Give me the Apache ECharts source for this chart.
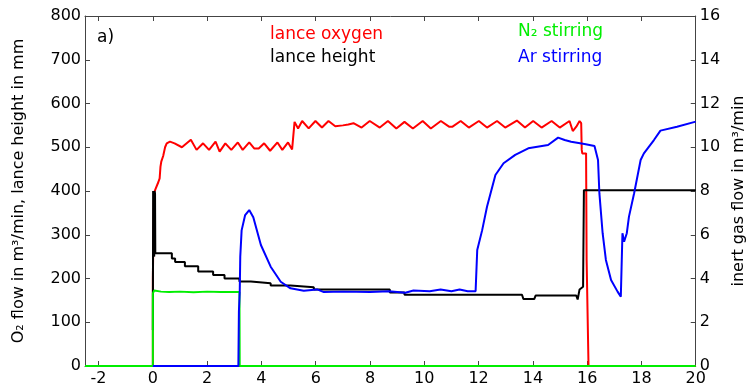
<!DOCTYPE html>
<html>
<head>
<meta charset="utf-8">
<script src="https://cdn.jsdelivr.net/npm/echarts@6/dist/echarts.min.js"></script>
<style>html,body{margin:0;padding:0;background:#fff}#c{width:755px;height:387px}</style>
</head>
<body>
<div id="c"></div>
<script>
// ---- data (time in min) ----
const xTicks = [-2,0,2,4,6,8,10,12,14,16,18,20];
const leftTicks = [0,100,200,300,400,500,600,700,800];
const rightTicks = [0,2,4,6,8,10,12,14,16];

const lanceOxygen = [[-2.5,0],[0,0],[0,200],[0.04,395],[0.1,405],[0.2,420],[0.25,429],[0.28,455],[0.31,467],[0.38,480],[0.45,500],[0.51,509],[0.63,513],[0.8,509],[1.07,500],[1.4,517],[1.61,494],[1.85,509],[2.07,494],[2.31,513],[2.46,490],[2.67,509],[2.89,494],[3.13,511],[3.31,494],[3.55,511],[3.74,497],[3.9,497],[4.1,509],[4.32,492],[4.59,511],[4.77,494],[4.98,511],[5.13,495],[5.2,497],[5.22,558],[5.35,543],[5.5,560],[5.74,543],[5.99,560],[6.23,545],[6.47,560],[6.72,548],[7.0,550],[7.2,552],[7.39,555],[7.69,545],[7.99,560],[8.36,545],[8.66,560],[8.97,543],[9.27,558],[9.58,543],[9.94,560],[10.24,543],[10.61,560],[10.91,547],[11.04,547],[11.34,560],[11.64,545],[12.01,560],[12.31,545],[12.68,560],[12.98,545],[13.41,561],[13.71,545],[14.01,560],[14.32,545],[14.69,560],[14.99,545],[15.35,560],[15.47,537],[15.6,547],[15.72,560],[15.78,555],[15.8,494],[15.82,486],[15.96,486],[15.98,242],[16.05,0],[20,0]];

const lanceHeight = [[0,82],[0.01,400],[0.05,250],[0.06,400],[0.08,395],[0.09,258],[0.7,258],[0.7,246],[0.82,246],[0.82,238],[1.18,238],[1.18,228],[1.67,228],[1.67,216],[2.22,216],[2.22,208],[2.64,208],[2.64,200],[3.19,200],[3.19,193],[3.61,193],[3.61,189],[4.34,189],[4.34,184],[5.07,184],[5.07,180],[5.93,180],[5.93,175],[8.73,175],[8.73,168],[9.27,168],[9.27,163],[13.6,163],[13.65,153],[14.05,153],[14.1,161],[15.6,161],[15.65,152],[15.7,152],[15.72,175],[15.85,181],[15.88,402],[20,402]];

const arStirring = [[0,0],[3.15,0],[3.17,2.5],[3.2,3.34],[3.22,5.0],[3.27,6.2],[3.4,6.9],[3.55,7.13],[3.7,6.8],[3.98,5.53],[4.34,4.54],[4.71,3.85],[5.07,3.55],[5.56,3.44],[6.05,3.5],[6.3,3.38],[7,3.4],[8,3.38],[8.7,3.42],[9.3,3.35],[9.6,3.45],[10.2,3.42],[10.6,3.5],[11,3.42],[11.3,3.5],[11.6,3.42],[11.89,3.42],[11.95,5.3],[12.13,6.2],[12.31,7.28],[12.62,8.73],[12.92,9.27],[13.35,9.65],[13.83,9.95],[14.56,10.1],[14.93,10.44],[15.17,10.33],[15.41,10.25],[15.9,10.15],[16.27,10.06],[16.4,9.42],[16.45,7.9],[16.57,6.07],[16.69,4.85],[16.88,3.93],[17.12,3.4],[17.24,3.17],[17.3,6.07],[17.36,5.68],[17.46,6.07],[17.54,6.83],[17.73,7.9],[17.97,9.42],[18.09,9.72],[18.46,10.33],[18.7,10.76],[19.31,10.94],[20,11.17]];

const n2Stirring = [[-2.5,0],[0,0],[0,3.32],[0.05,3.45],[0.12,3.5],[0.3,3.4],[0.6,3.38],[1,3.4],[1.5,3.37],[2,3.4],[2.5,3.38],[3.19,3.38],[3.2,0],[20,0]];

// ---- chart ----
const FONT = 'DejaVu Sans';
const axisLineStyle = {color:'#444', width:1};
const chart = echarts.init(document.getElementById('c'), null, {renderer:'canvas'});
chart.setOption({
  animation:false,
  backgroundColor:'#fff',
  grid:{left:85,right:53,top:16,bottom:21,containLabel:false},
  xAxis:[
    {type:'value',min:-2.5,max:20,position:'bottom',
     axisLine:{show:true,onZero:false,lineStyle:axisLineStyle},
     axisTick:{show:true,inside:true,length:5,customValues:xTicks,lineStyle:axisLineStyle},
     axisLabel:{show:true,customValues:xTicks,color:'#000',fontFamily:FONT,fontSize:16,margin:5},
     splitLine:{show:false}},
    {type:'value',min:-2.5,max:20,position:'top',
     axisLine:{show:true,onZero:false,lineStyle:axisLineStyle},
     axisTick:{show:true,inside:true,length:5,customValues:xTicks,lineStyle:axisLineStyle},
     axisLabel:{show:false},splitLine:{show:false}}
  ],
  yAxis:[
    {type:'value',min:0,max:800,interval:100,position:'left',
     name:'O\u2082 flow in m\u00b3/min, lance height in mm',nameLocation:'middle',nameGap:58,nameRotate:90,
     nameTextStyle:{color:'#000',fontFamily:FONT,fontSize:16},
     axisLine:{show:true,onZero:false,lineStyle:axisLineStyle},
     axisTick:{show:true,inside:true,length:5,lineStyle:axisLineStyle},
     axisLabel:{color:'#000',fontFamily:FONT,fontSize:16,margin:4,customValues:leftTicks},
     splitLine:{show:false}},
    {type:'value',min:0,max:16,interval:2,position:'right',
     name:'inert gas flow in m\u00b3/min',nameLocation:'middle',nameGap:34,nameRotate:90,
     nameTextStyle:{color:'#000',fontFamily:FONT,fontSize:16},
     axisLine:{show:true,onZero:false,lineStyle:axisLineStyle},
     axisTick:{show:true,inside:true,length:5,lineStyle:axisLineStyle},
     axisLabel:{color:'#000',fontFamily:FONT,fontSize:16,margin:4,customValues:rightTicks},
     splitLine:{show:false}}
  ],
  series:[
    {name:'lance oxygen',type:'line',xAxisIndex:0,yAxisIndex:0,data:lanceOxygen,showSymbol:false,
     lineStyle:{color:'#ff0000',width:2},itemStyle:{color:'#ff0000'},z:2},
    {name:'lance height',type:'line',xAxisIndex:0,yAxisIndex:0,data:lanceHeight,showSymbol:false,
     lineStyle:{color:'#000000',width:2},itemStyle:{color:'#000'},z:3},
    {name:'N2 stirring',type:'line',xAxisIndex:0,yAxisIndex:1,data:n2Stirring,showSymbol:false,
     lineStyle:{color:'#00ee00',width:2},itemStyle:{color:'#00ee00'},z:4},
    {name:'Ar stirring',type:'line',xAxisIndex:0,yAxisIndex:1,data:arStirring,showSymbol:false,
     lineStyle:{color:'#0000ff',width:2},itemStyle:{color:'#0000ff'},z:5}
  ],
  graphic:[
    {type:'text',x:97,y:38,style:{text:'a)',fill:'#000',font:'17px "DejaVu Sans"',verticalAlign:'middle'}},
    {type:'text',x:270,y:35,style:{text:'lance oxygen',fill:'#ff0000',font:'17px "DejaVu Sans"',verticalAlign:'middle'}},
    {type:'text',x:270,y:58,style:{text:'lance height',fill:'#000',font:'17px "DejaVu Sans"',verticalAlign:'middle'}},
    {type:'text',x:518,y:32,style:{text:'N\u2082 stirring',fill:'#00ee00',font:'17px "DejaVu Sans"',verticalAlign:'middle'}},
    {type:'text',x:518,y:58,style:{text:'Ar stirring',fill:'#0000ff',font:'17px "DejaVu Sans"',verticalAlign:'middle'}}
  ]
});
</script>
</body>
</html>
